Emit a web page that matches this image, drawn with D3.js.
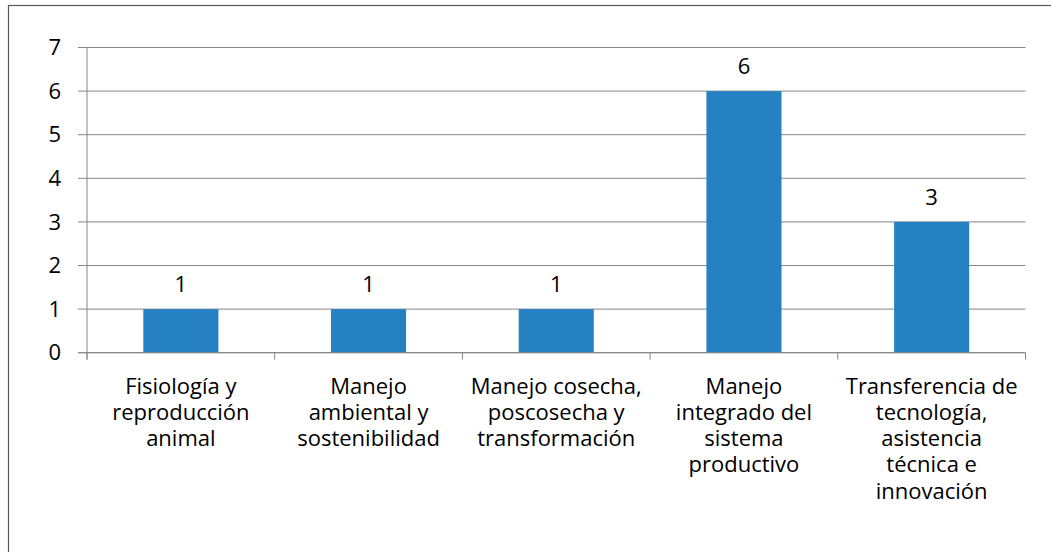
<!DOCTYPE html>
<html>
<head>
<meta charset="utf-8">
<script src="https://cdn.jsdelivr.net/npm/d3@7"></script>
<style>
  html, body { margin: 0; padding: 0; background: #fff; }
  svg { display: block; font-family: "Open Sans", Lato, sans-serif; }
</style>
</head>
<body>
<svg id="chart" width="1051" height="552"></svg>
<script>
const categories = [
    ["Fisiología y", "reproducción", "animal"],
    ["Manejo", "ambiental y", "sostenibilidad"],
    ["Manejo cosecha,", "poscosecha y", "transformación"],
    ["Manejo", "integrado del", "sistema", "productivo"],
    ["Transferencia de", "tecnología,", "asistencia", "técnica e", "innovación"]
];
const values = [1, 1, 1, 6, 3];
const yTicks = [0, 1, 2, 3, 4, 5, 6, 7];

const svg = d3.select("#chart");
const plotLeft = 87, plotRight = 1025.5, plotTop = 47.5, plotBottom = 352.7;
const gridColor = "#868686";
const fontSize = 22;

// outer frame of the chart
svg.append("rect")
    .attr("x", 8.5).attr("y", 5.5)
    .attr("width", 1060).attr("height", 560)
    .attr("fill", "none")
    .attr("stroke", "#595959")
    .attr("stroke-width", 1.2);

const x = d3.scaleBand()
    .domain(d3.range(categories.length))
    .range([plotLeft, plotRight])
    .padding(0);

const y = d3.scaleLinear()
    .domain([0, 7])
    .range([plotBottom, plotTop]);

// gridlines + y ticks
svg.append("g")
    .selectAll("line")
    .data(yTicks)
    .join("line")
    .attr("x1", plotLeft - 9).attr("x2", plotRight)
    .attr("y1", d => y(d)).attr("y2", d => y(d))
    .attr("stroke", gridColor)
    .attr("stroke-width", 1);

svg.append("g")
    .selectAll("text")
    .data(yTicks)
    .join("text")
    .attr("x", 61)
    .attr("y", d => y(d))
    .attr("dy", "0.35em")
    .attr("text-anchor", "end")
    .attr("font-size", fontSize)
    .attr("fill", "#000")
    .text(d => d);

// y axis line
svg.append("line")
    .attr("x1", plotLeft).attr("x2", plotLeft)
    .attr("y1", plotTop).attr("y2", plotBottom + 7)
    .attr("stroke", gridColor);

// category boundary ticks below axis
svg.append("g")
    .selectAll("line")
    .data(d3.range(categories.length + 1))
    .join("line")
    .attr("x1", d => plotLeft + d * x.bandwidth())
    .attr("x2", d => plotLeft + d * x.bandwidth())
    .attr("y1", plotBottom).attr("y2", plotBottom + 7)
    .attr("stroke", gridColor);

// bars
const barW = x.bandwidth() * 0.4;
svg.append("g")
    .selectAll("rect")
    .data(values)
    .join("rect")
    .attr("x", (d, i) => x(i) + (x.bandwidth() - barW) / 2)
    .attr("y", d => y(d))
    .attr("width", barW)
    .attr("height", d => plotBottom - y(d))
    .attr("fill", "#2681c2");

// x axis line on top of bars
svg.append("line")
    .attr("x1", plotLeft - 9).attr("x2", plotRight)
    .attr("y1", plotBottom).attr("y2", plotBottom)
    .attr("stroke", gridColor);

// value labels
svg.append("g")
    .selectAll("text")
    .data(values)
    .join("text")
    .attr("x", (d, i) => x(i) + x.bandwidth() / 2)
    .attr("y", d => y(d) - 25)
    .attr("dy", "0.35em")
    .attr("text-anchor", "middle")
    .attr("font-size", fontSize)
    .attr("fill", "#000")
    .text(d => d);

// category labels
const catG = svg.append("g")
    .selectAll("text")
    .data(categories)
    .join("text")
    .attr("x", (d, i) => x(i) + x.bandwidth() / 2)
    .attr("y", 386)
    .attr("text-anchor", "middle")
    .attr("font-size", fontSize)
    .attr("fill", "#000");

catG.selectAll("tspan")
    .data(d => d)
    .join("tspan")
    .attr("x", function() { return d3.select(this.parentNode).attr("x"); })
    .attr("dy", (d, i) => i === 0 ? "0.35em" : "26.2px")
    .text(d => d);
</script>
</body>
</html>
